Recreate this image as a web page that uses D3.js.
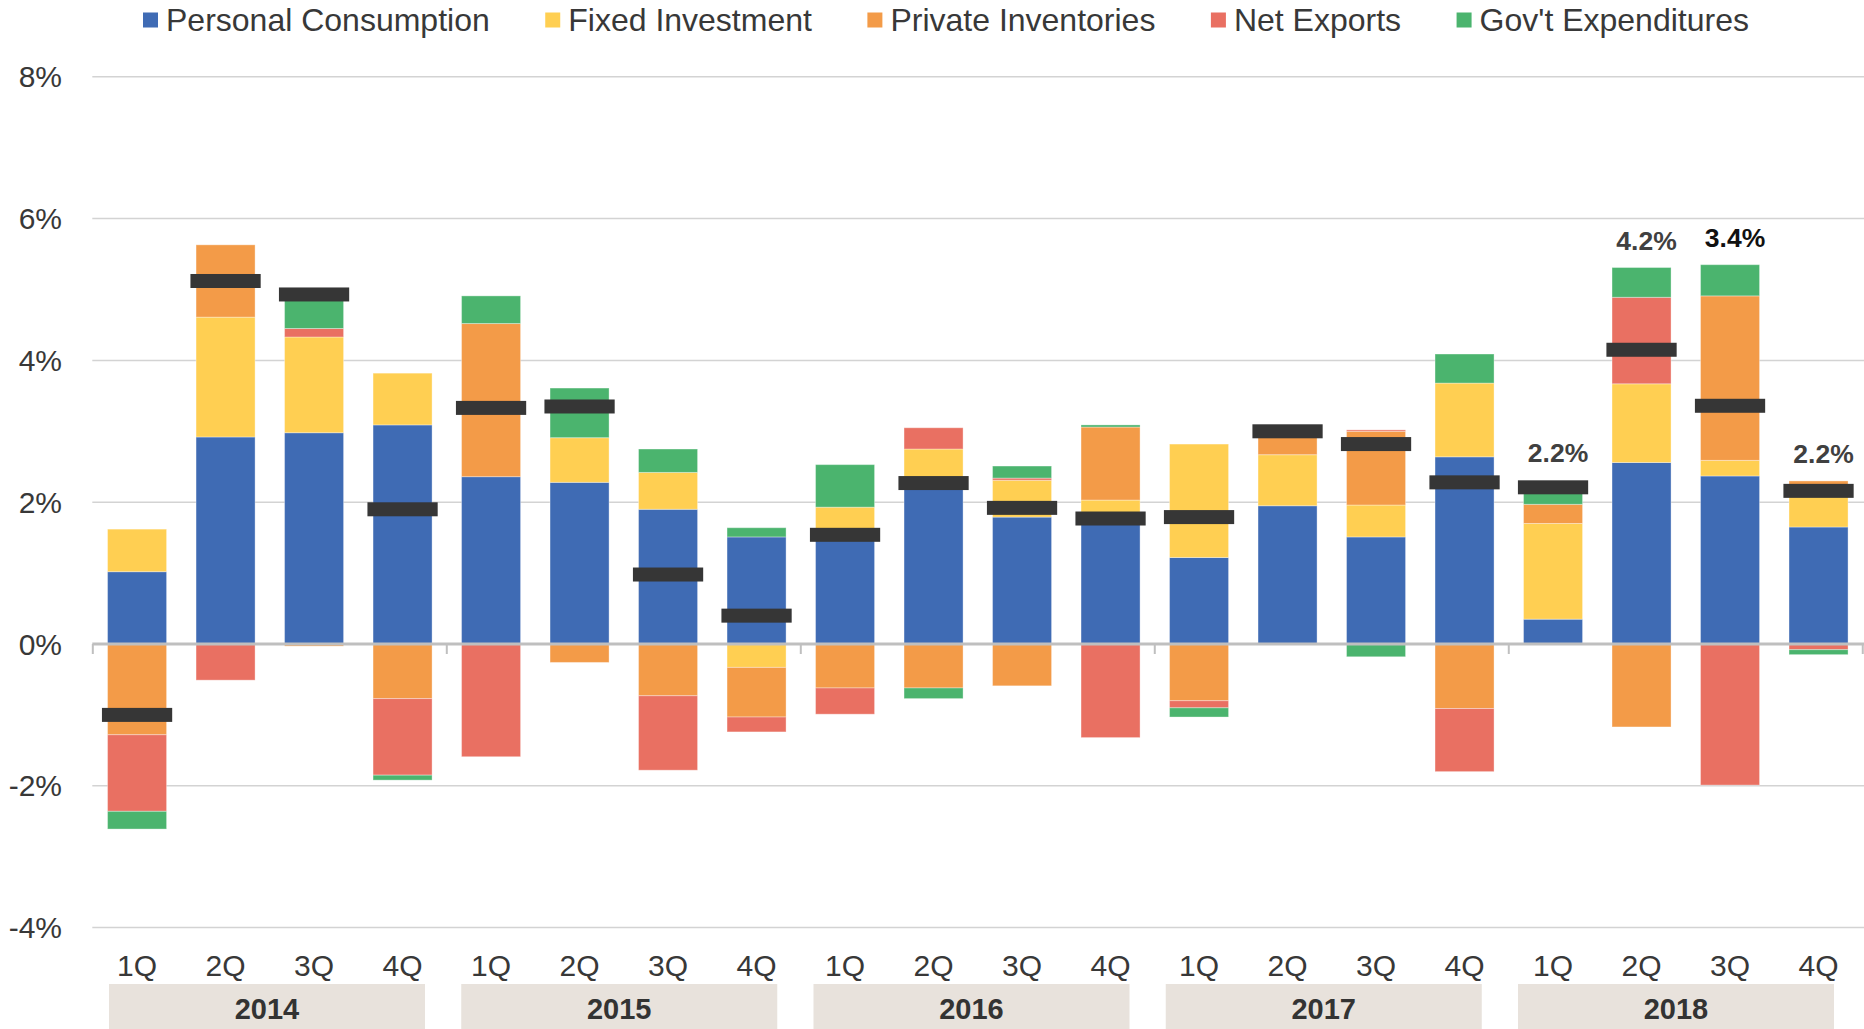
<!DOCTYPE html>
<html>
<head>
<meta charset="utf-8">
<script src="https://cdn.jsdelivr.net/npm/d3@7"></script>
<style>
    body { margin: 0; background: #fff; }
    text { font-family: "Liberation Sans", Arial, sans-serif; fill: #383838; }
</style>
</head>
<body>
<svg id="chart" width="1864" height="1029"></svg>
<script>
// contributions to real GDP growth, percentage points
const years = ["2014", "2015", "2016", "2017", "2018"];
const quarters = ["1Q", "2Q", "3Q", "4Q"];
const seriesNames = ["Personal Consumption", "Fixed Investment", "Private Inventories", "Net Exports", "Gov't Expenditures"];

const consumption = [1.02, 2.92, 2.98, 3.09, 2.36, 2.28, 1.90, 1.51, 1.52, 2.25, 1.79, 1.75, 1.22, 1.95, 1.51, 2.64, 0.35, 2.56, 2.37, 1.65];
const fixedInvestment = [0.60, 1.69, 1.35, 0.73, 0.00, 0.63, 0.52, -0.33, 0.41, 0.50, 0.52, 0.28, 1.60, 0.72, 0.45, 1.04, 1.35, 1.11, 0.22, 0.58];
const inventories = [-1.28, 1.02, -0.03, -0.77, 2.16, -0.26, -0.73, -0.70, -0.62, -0.62, -0.59, 1.03, -0.80, 0.33, 1.04, -0.91, 0.27, -1.17, 2.32, 0.07];
const netExports = [-1.08, -0.51, 0.12, -1.08, -1.59, 0.00, -1.05, -0.21, -0.37, 0.30, 0.03, -1.32, -0.10, 0.00, 0.02, -0.89, 0.00, 1.22, -1.99, -0.08];
const govExpenditures = [-0.25, 0.00, 0.48, -0.07, 0.39, 0.70, 0.33, 0.13, 0.60, -0.15, 0.17, 0.03, -0.13, 0.00, -0.18, 0.41, 0.23, 0.42, 0.44, -0.07];
const gdpTotal = [-1.00, 5.12, 4.93, 1.90, 3.33, 3.35, 0.98, 0.40, 1.54, 2.27, 1.92, 1.77, 1.79, 3.00, 2.82, 2.28, 2.21, 4.15, 3.36, 2.16];

// value labels shown over the 2018 bars
const callouts = [
    { period: "2018-1Q", text: "2.2%", color: "#404040" },
    { period: "2018-2Q", text: "4.2%", color: "#404040" },
    { period: "2018-3Q", text: "3.4%", color: "#111" },
    { period: "2018-4Q", text: "2.2%", color: "#404040" },
];
const yTicks = [-4, -2, 0, 2, 4, 6, 8];

const colors = ["#3f6bb4", "#ffcf52", "#f39b48", "#e97062", "#4bb46e"];

const periods = [];
years.forEach(y => quarters.forEach(q => periods.push(`${y}-${q}`)));

const rows = periods.map((p, i) => ({
    period: p,
    [seriesNames[0]]: consumption[i],
    [seriesNames[1]]: fixedInvestment[i],
    [seriesNames[2]]: inventories[i],
    [seriesNames[3]]: netExports[i],
    [seriesNames[4]]: govExpenditures[i],
    total: gdpTotal[i],
}));

const svg = d3.select("#chart");

const x = d3.scaleBand()
    .domain(periods)
    .range([92.8, 1862.8])
    .paddingInner(0.333)
    .paddingOuter(0.1667);

const y = d3.scaleLinear().domain([-4, 8]).range([927.6, 76.8]);

const yearBox = d3.scaleBand()
    .domain(years)
    .range([109, 1834])
    .paddingInner(0.1029);

// gridlines
svg.append("g")
    .selectAll("line")
    .data(yTicks.filter(d => d !== 0))
    .join("line")
    .attr("x1", 92.3)
    .attr("x2", 1864)
    .attr("y1", d => y(d))
    .attr("y2", d => y(d))
    .attr("stroke", "#d3d3d3")
    .attr("stroke-width", 1.5);

// y labels
svg.append("g")
    .selectAll("text")
    .data(yTicks)
    .join("text")
    .attr("x", 62)
    .attr("y", d => y(d))
    .attr("dy", "0.35em")
    .attr("text-anchor", "end")
    .attr("font-size", 30)
    .text(d => `${d}%`);

// stacked bars
const stack = d3.stack()
    .keys(seriesNames)
    .offset(d3.stackOffsetDiverging);

const layers = stack(rows);

svg.append("g")
    .selectAll("g")
    .data(layers)
    .join("g")
    .attr("fill", (d, i) => colors[i])
    .selectAll("rect")
    .data(d => d.filter(s => s[1] - s[0] !== 0))
    .join("rect")
    .attr("x", d => x(d.data.period))
    .attr("width", x.bandwidth())
    .attr("y", d => y(Math.max(d[0], d[1])))
    .attr("height", d => Math.abs(y(d[0]) - y(d[1])))
    .attr("stroke", "#fff")
    .attr("stroke-opacity", 0.35)
    .attr("stroke-width", 1);

// zero line and year separators
svg.append("line")
    .attr("x1", 92.3)
    .attr("x2", 1864)
    .attr("y1", y(0))
    .attr("y2", y(0))
    .attr("stroke", "#bfbfbf")
    .attr("stroke-width", 3);

const step = x.step();
svg.append("g")
    .selectAll("line")
    .data(d3.range(0, periods.length + 1, 4))
    .join("line")
    .attr("x1", i => x.range()[0] + i * step)
    .attr("x2", i => x.range()[0] + i * step)
    .attr("y1", y(0))
    .attr("y2", y(0) + 10)
    .attr("stroke", "#bfbfbf")
    .attr("stroke-width", 2);

// GDP total markers
const markerW = x.bandwidth() * 1.19;
svg.append("g")
    .selectAll("rect")
    .data(rows)
    .join("rect")
    .attr("x", d => x(d.period) + x.bandwidth() / 2 - markerW / 2)
    .attr("width", markerW)
    .attr("y", d => y(d.total) - 7)
    .attr("height", 14)
    .attr("fill", "#363636");

// callout labels
svg.append("g")
    .selectAll("text")
    .data(callouts)
    .join("text")
    .attr("x", d => x(d.period) + x.bandwidth() / 2 + 5)
    .attr("y", d => {
        const r = rows.find(r => r.period === d.period);
        const top = d3.max(layers, l => l.find(s => s.data.period === d.period)[1]);
        return Math.min(y(top), y(r.total) - 7) - 18;
    })
    .attr("text-anchor", "middle")
    .attr("font-size", 26.5)
    .attr("font-weight", "bold")
    .style("fill", d => d.color)
    .text(d => d.text);

// quarter labels
svg.append("g")
    .selectAll("text")
    .data(periods)
    .join("text")
    .attr("x", d => x(d) + x.bandwidth() / 2)
    .attr("y", 976)
    .attr("text-anchor", "middle")
    .attr("font-size", 30)
    .text(d => d.split("-")[1]);

// year boxes
const yearG = svg.append("g")
    .selectAll("g")
    .data(years)
    .join("g");

yearG.append("rect")
    .attr("x", d => yearBox(d))
    .attr("width", yearBox.bandwidth())
    .attr("y", 984)
    .attr("height", 45)
    .attr("fill", "#e8e2dc");

yearG.append("text")
    .attr("x", d => yearBox(d) + yearBox.bandwidth() / 2)
    .attr("y", 1019)
    .attr("text-anchor", "middle")
    .attr("font-size", 29)
    .attr("font-weight", "bold")
    .style("fill", "#333")
    .text(d => d);

// legend
const legend = svg.append("g");
let lx = 143;
seriesNames.forEach((name, i) => {
    legend.append("rect")
        .attr("x", lx)
        .attr("y", 12.5)
        .attr("width", 15)
        .attr("height", 15)
        .attr("fill", colors[i]);
    const t = legend.append("text")
        .attr("x", lx + 23)
        .attr("y", 30.5)
        .attr("font-size", 32)
        .text(name);
    lx += 23 + t.node().getComputedTextLength() + 55.5;
});
</script>
</body>
</html>
